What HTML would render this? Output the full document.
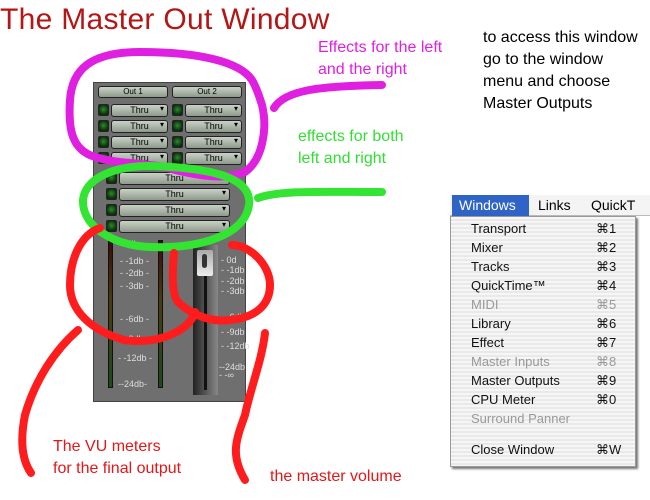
<!DOCTYPE html>
<html><head><meta charset="utf-8"><style>
*{margin:0;padding:0;box-sizing:border-box}
body{width:650px;height:500px;background:#fff;position:relative;overflow:hidden;font-family:"Liberation Sans",sans-serif}
.a{position:absolute}
.btn{position:absolute;height:12px;background:linear-gradient(#c9d2c6,#8f9a8c);border:1px solid #222;border-radius:3px;font-size:8px;line-height:10px;text-align:center;color:#000}
.led{position:absolute;width:11px;height:12px;background:radial-gradient(circle at 50% 45%,#2c8a2c,#0b300b 70%);border:1px solid #222;border-radius:2px}
.dd:after{content:"▾";position:absolute;right:3px;top:-1px;font-size:8px}
.lbl{position:absolute;font-size:9px;color:#ddd;white-space:nowrap}
.mi{position:absolute;left:21px;font-size:13px;color:#111}
.mk{position:absolute;left:146px;font-size:13px;color:#111}
.g{color:#999}
.t{position:absolute;font-size:16px;line-height:22px}
</style></head><body>
<div class="a" style="left:0;top:3px;font-size:30px;color:#b51515;letter-spacing:0.3px">The Master Out Window</div>
<div class="t" style="left:483px;top:27px;color:#000">to access this window<br>go to the window<br>menu and choose<br>Master Outputs</div>
<div class="t" style="left:318px;top:37px;color:#e020e0">Effects for the left<br>and the right</div>
<div class="t" style="left:298px;top:126px;color:#33dd33">effects for both<br>left and right</div>
<div class="t" style="left:53px;top:436px;color:#e01818">The VU meters<br>for the final output</div>
<div class="t" style="left:270px;top:466px;color:#e01818">the master volume</div>

<div class="a" style="left:93px;top:82px;width:153px;height:320px;background:#6f6f6f;border:1px solid #444"></div>
<div class="btn" style="left:98px;top:86px;width:70px">Out 1</div>
<div class="btn" style="left:172px;top:86px;width:70px">Out 2</div>
<div id="rows"></div>
<div class="a" style="left:108px;top:240px;width:5px;height:148px;background:linear-gradient(#3a0c0c,#4b3a10 40%,#1d4a1d);border:1px solid #111"></div>
<div class="a" style="left:158px;top:240px;width:5px;height:148px;background:linear-gradient(#3a0c0c,#4b3a10 40%,#1d4a1d);border:1px solid #111"></div>
<div class="lbl" style="left:118px;top:239px">- 0db</div>
<div class="lbl" style="left:120px;top:256px">- -1db -</div>
<div class="lbl" style="left:120px;top:268px">- -2db -</div>
<div class="lbl" style="left:120px;top:281px">- -3db -</div>
<div class="lbl" style="left:120px;top:314px">- -6db -</div>
<div class="lbl" style="left:120px;top:334px">- -9db -</div>
<div class="lbl" style="left:118px;top:353px">- -12db -</div>
<div class="lbl" style="left:118px;top:379px">--24db-</div>
<div class="a" style="left:193px;top:245px;width:25px;height:150px;background:linear-gradient(90deg,#222,#555 50%,#888);"></div>
<div class="a" style="left:204px;top:270px;width:3px;height:120px;background:#111"></div>
<div class="a" style="left:197px;top:250px;width:16px;height:26px;background:linear-gradient(#aaa,#eee);border-radius:2px"></div>
<div class="a" style="left:202px;top:254px;width:5px;height:14px;background:#333;border-radius:3px"></div>
<div class="lbl" style="left:221px;top:255px">- 0d</div>
<div class="lbl" style="left:221px;top:265px">- -1db</div>
<div class="lbl" style="left:221px;top:276px">- -2db</div>
<div class="lbl" style="left:221px;top:286px">- -3db</div>
<div class="lbl" style="left:221px;top:312px">- -6db</div>
<div class="lbl" style="left:221px;top:327px">- -9db</div>
<div class="lbl" style="left:221px;top:341px">- -12db</div>
<div class="lbl" style="left:219px;top:362px">--24db</div>
<div class="lbl" style="left:219px;top:370px">- -∞</div>

<div class="a" style="left:450px;top:195px;width:200px;height:21px;background:#f4f4f4;border-bottom:1px solid #bbb"></div>
<div class="a" style="left:452px;top:195px;width:77px;height:21px;background:#2f64c6;color:#fff;font-size:14px;line-height:21px;padding-left:7px">Windows</div>
<div class="a" style="left:538px;top:195px;font-size:14px;line-height:21px">Links</div>
<div class="a" style="left:591px;top:195px;font-size:14px;line-height:21px">QuickT</div>
<div class="a" style="left:450px;top:216px;width:186px;height:251px;background:repeating-linear-gradient(#f6f6f6 0 2px,#e9e9e9 2px 4px);border:1px solid #999;box-shadow:2px 2px 2px #777"></div>
<div class="a" style="left:450px;top:216px;width:186px;height:251px">
<div class="mi" style="top:5px">Transport</div><div class="mk" style="top:5px">⌘1</div>
<div class="mi" style="top:24px">Mixer</div><div class="mk" style="top:24px">⌘2</div>
<div class="mi" style="top:43px">Tracks</div><div class="mk" style="top:43px">⌘3</div>
<div class="mi" style="top:62px">QuickTime™</div><div class="mk" style="top:62px">⌘4</div>
<div class="mi g" style="top:81px">MIDI</div><div class="mk g" style="top:81px">⌘5</div>
<div class="mi" style="top:100px">Library</div><div class="mk" style="top:100px">⌘6</div>
<div class="mi" style="top:119px">Effect</div><div class="mk" style="top:119px">⌘7</div>
<div class="mi g" style="top:138px">Master Inputs</div><div class="mk g" style="top:138px">⌘8</div>
<div class="mi" style="top:157px">Master Outputs</div><div class="mk" style="top:157px">⌘9</div>
<div class="mi" style="top:176px">CPU Meter</div><div class="mk" style="top:176px">⌘0</div>
<div class="mi g" style="top:195px">Surround Panner</div>
<div class="mi" style="top:226px">Close Window</div><div class="mk" style="top:226px">⌘W</div>
</div>

<svg class="a" style="left:0;top:0" width="650" height="500" fill="none" stroke-linecap="round" stroke-linejoin="round">
<path d="M252 80 C240 62 200 52 140 52 C90 52 72 70 70 100 C68 130 72 150 95 157 C120 165 150 162 175 170 C200 176 225 180 245 172 C262 160 268 130 262 105 C258 92 255 85 252 80 M274 108 C285 90 320 86 382 85" stroke="#e020e0" stroke-width="8"/>
<path d="M150 166 C110 166 85 180 83 200 C82 225 110 245 150 247 C200 249 245 235 249 205 C252 180 220 168 150 166 Z M258 198 C280 190 320 192 382 192" stroke="#33e433" stroke-width="8"/>
<path d="M100 228 C80 235 70 260 70 285 C70 310 90 330 124 340 C160 345 190 330 195 312 M78 330 C55 350 35 380 25 415 C20 440 22 460 31 473 M174 253 C172 275 172 295 178 302 C195 318 215 322 230 320 C255 318 270 305 270 285 C270 265 250 245 232 245 M265 333 C262 360 250 390 245 415 C236 440 230 455 245 480" stroke="#ff1c1c" stroke-width="8"/>
</svg>
<script>
var r=document.getElementById('rows'),h='';
[104,120,136,152].forEach(function(y){
h+='<div class="led" style="left:98px;top:'+y+'px"></div><div class="btn dd" style="left:111px;top:'+y+'px;width:57px;height:13px;font-size:9px">Thru</div>';
h+='<div class="led" style="left:172px;top:'+y+'px"></div><div class="btn dd" style="left:185px;top:'+y+'px;width:57px;height:13px;font-size:9px">Thru</div>';});
[172,188,204,220].forEach(function(y){
h+='<div class="led" style="left:106px;top:'+y+'px"></div><div class="btn dd" style="left:119px;top:'+y+'px;width:111px;height:13px;font-size:9px">Thru</div>';});
r.innerHTML=h;
</script>
</body></html>
